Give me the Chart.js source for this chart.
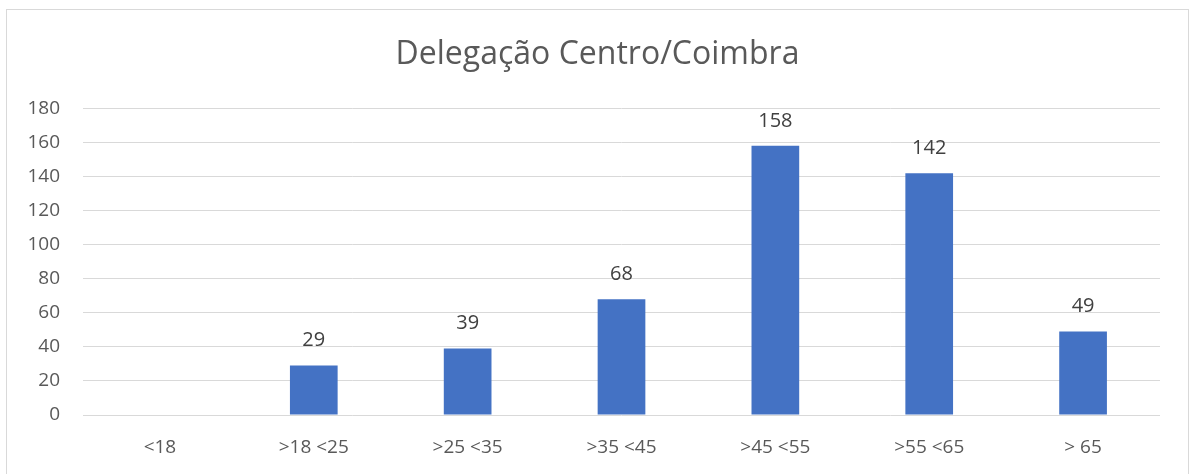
<!DOCTYPE html>
<html>
<head>
<meta charset="utf-8">
<script src="https://cdn.jsdelivr.net/npm/chart.js@4"></script>
<style>
  body { margin: 0; background: #fff; }
  #box { position: absolute; left: 6px; top: 9px; width: 1181px; height: 480px; border: 1px solid #d9d9d9; }
  #chart { display: block; }
</style>
</head>
<body>
<div id="box"><canvas id="chart" width="1181" height="465"></canvas></div>
<script>
const xLabels = ['<18', '>18 <25', '>25 <35', '>35 <45', '>45 <55', '>55 <65', '> 65']
const counts = [null, 29, 39, 68, 158, 142, 49]
const yTicks = [0, 20, 40, 60, 80, 100, 120, 140, 160, 180]

const textColor = '#595959'
const fontName = '"Open Sans", sans-serif'

// value labels above each bar
const barLabels = {
  id: 'barLabels',
  afterDatasetsDraw(chart) {
    const ctx = chart.ctx
    const meta = chart.getDatasetMeta(0)
    ctx.save()
    ctx.font = '20px ' + fontName
    ctx.fillStyle = '#404040'
    ctx.textAlign = 'center'
    ctx.textBaseline = 'middle'
    meta.data.forEach((bar, i) => {
      const v = counts[i]
      if (v === null) return
      ctx.fillText(String(v), bar.x, bar.y - 25)
    })
    ctx.restore()
  }
}

const ctx = document.getElementById('chart').getContext('2d')
const myChart = new Chart(ctx, {
  type: 'bar',
  data: {
    labels: xLabels,
    datasets: [{
      label: 'Delegação Centro/Coimbra',
      data: counts,
      backgroundColor: '#4472C4',
      categoryPercentage: 1,
      barPercentage: 0.31
    }]
  },
  options: {
    responsive: false,
    animation: false,
    layout: { padding: 0 },
    plugins: {
      legend: { display: false },
      tooltip: { enabled: false },
      title: {
        display: true,
        text: 'Delegação Centro/Coimbra',
        color: textColor,
        font: { family: fontName, size: 32, weight: 'normal' },
        padding: { top: 26, bottom: 34 }
      }
    },
    scales: {
      x: {
        grid: { display: false, drawTicks: false },
        border: { display: false },
        ticks: { color: textColor, font: { family: fontName, size: 19 }, padding: 21, maxRotation: 0 },
        afterFit(scale) { scale.height = 60 }
      },
      y: {
        min: 0,
        max: 180,
        afterBuildTicks(scale) { scale.ticks = yTicks.map(v => ({ value: v })) },
        grid: { color: '#d9d9d9', lineWidth: 1, drawTicks: false },
        border: { display: false },
        ticks: { color: textColor, font: { family: fontName, size: 19 }, padding: 23 },
        afterFit(scale) { scale.width = 76 }
      },
      // empty right-hand strip so the title stays centred on the whole box
      yRight: {
        position: 'right',
        grid: { display: false, drawTicks: false },
        border: { display: false },
        ticks: { display: false },
        afterFit(scale) { scale.width = 28 }
      }
    }
  },
  plugins: [barLabels]
})
</script>
</body>
</html>
